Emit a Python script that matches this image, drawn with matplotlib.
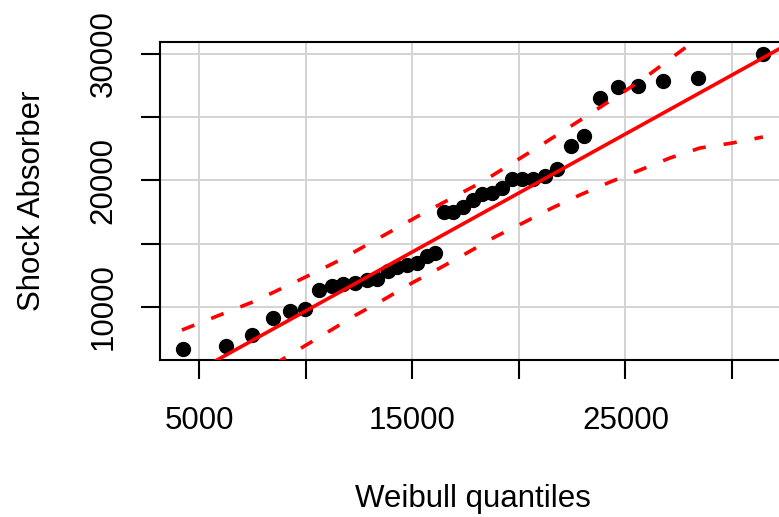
import matplotlib
matplotlib.use("Agg")
import matplotlib.pyplot as plt

plt.rcParams['font.family'] = ['Liberation Sans', 'DejaVu Sans']

# Weibull theoretical quantiles (x) and ordered sample values (y)
weibull_q = [4250, 6270, 7490, 8470, 9270, 9970, 10630, 11240, 11750, 12320,
             12880, 13350, 13870, 14290, 14760, 15230, 15690, 16070, 16490, 16910,
             17380, 17850, 18270, 18740, 19210, 19680, 20150, 20670, 21230, 21790,
             22450, 23060, 23810, 24650, 25590, 26760, 28400, 31450]
shock = [6700, 6950, 7820, 9120, 9660, 9820, 11310, 11690, 11850, 11880,
         12140, 12200, 12870, 13150, 13330, 13470, 14040, 14300, 17520, 17540,
         17890, 18450, 18960, 18980, 19410, 20100, 20100, 20150, 20320, 20900,
         22700, 23490, 26510, 27410, 27490, 27890, 28100, 30000]

# reference line (two points on it)
ref_x = [3000, 33000]
ref_y = [3160, 31120]

# pointwise confidence envelope
upper_x = [4200, 7630, 10300, 11610, 15370, 18270, 20760, 23340, 25830, 28170, 31450]
upper_y = [8180, 10470, 12610, 13710, 17270, 19870, 22480, 25250, 28010, 30930, 35400]
lower_x = [6000, 9170, 11050, 12360, 13630, 14990, 16300, 17570, 18880, 20200,
           21560, 22870, 24280, 25690, 27090, 28500, 30000, 31450]
lower_y = [2900, 6130, 8030, 9370, 10550, 11900, 13080, 14270, 15530, 16640,
           17820, 18850, 19870, 20820, 21770, 22560, 22950, 23430]

x_ticks = [5000, 10000, 15000, 20000, 25000, 30000]
x_ticklabels = ['5000', '', '15000', '', '25000', '']
y_ticks = [10000, 15000, 20000, 25000, 30000]
y_ticklabels = ['10000', '', '20000', '', '30000']

W, H = 779, 517
fig = plt.figure(figsize=(W / 100, H / 100), dpi=100)
ax = fig.add_axes([160 / W, 1 - 360 / H, (786 - 160) / W, (360 - 42) / H])

ax.set_xlim(3171, 32533)
ax.set_ylim(5814, 30932)

for xv in x_ticks:
    ax.axvline(xv, color='#D3D3D3', lw=1.4, zorder=0)
for yv in y_ticks:
    ax.axhline(yv, color='#D3D3D3', lw=1.4, zorder=0)

ax.plot(weibull_q, shock, 'o', color='black', ms=10, zorder=2)
ax.plot(ref_x, ref_y, '-', color='#FF0000', lw=2.6, zorder=3)
dash = (0, (3.7, 5.0))
ax.plot(upper_x, upper_y, color='#FF0000', lw=2.6, linestyle=dash, zorder=3)
ax.plot(lower_x, lower_y, color='#FF0000', lw=2.6, linestyle=dash, zorder=3)

ax.set_xticks(x_ticks)
ax.set_xticklabels(x_ticklabels)
ax.set_yticks(y_ticks)
ax.set_yticklabels(y_ticklabels, rotation=90, va='center')

ax.tick_params(axis='both', direction='out', length=14, width=1.5,
               labelsize=22.5, color='black')
ax.tick_params(axis='x', pad=19)
ax.tick_params(axis='y', pad=16)

for s in ax.spines.values():
    s.set_linewidth(1.5)

ax.set_xlabel('Weibull quantiles', fontsize=22.5, labelpad=35)
ax.set_ylabel('Shock Absorber', fontsize=22.5, labelpad=30)

fig.savefig('out.png', dpi=100)
